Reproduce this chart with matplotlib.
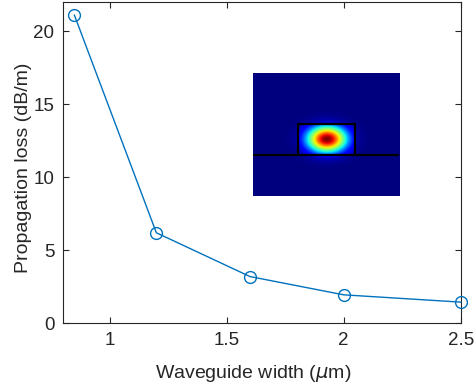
import numpy as np
import matplotlib.pyplot as plt

plt.rcParams['font.family'] = ['Liberation Sans', 'DejaVu Sans']
plt.rcParams['mathtext.fontset'] = 'dejavusans'

# data
width_um = [0.85, 1.2, 1.6, 2.0, 2.5]
loss_dBm = [21.1, 6.2, 3.2, 1.95, 1.45]
xticks = [1, 1.5, 2, 2.5]
xticklabels = ['1', '1.5', '2', '2.5']
yticks = [0, 5, 10, 15, 20]

blue = '#0072BD'
txt = '#262626'

fig = plt.figure(figsize=(4.76, 3.87), dpi=100)
ax = fig.add_axes([0.1317, 0.1646, 0.8362, 0.8302])

ax.plot(width_um, loss_dBm, '-o', color=blue, lw=1.0, ms=8.5,
        markerfacecolor='none', markeredgewidth=1.0, clip_on=False, zorder=3)

ax.set_xlim(0.8, 2.5)
ax.set_ylim(0, 22)
ax.set_xticks(xticks)
ax.set_xticklabels(xticklabels)
ax.set_yticks(yticks)
ax.tick_params(direction='in', length=4, width=0.8, colors=txt, labelsize=13.5,
               top=True, right=True, pad=6)
for s in ax.spines.values():
    s.set_color(txt)
    s.set_linewidth(0.8)
ax.set_xlabel(r'Waveguide width ($\mu$m)', fontsize=14, color=txt)
ax.set_ylabel('Propagation loss (dB/m)', fontsize=14, color=txt)
ax.xaxis.set_label_coords(0.479, -0.125)
ax.yaxis.set_label_coords(-0.078, 0.483)

# inset: mode profile
ins = fig.add_axes([0.531, 0.4935, 0.308, 0.3186])
W, H = 147, 123
xx, yy = np.meshgrid(np.arange(W) + 0.5, np.arange(H) + 0.5)
cx, cy = 74, 66.5
sx, sy = 13.5, 9.0
mode = np.exp(-((xx - cx) / sx) ** 2 / 2 - ((yy - cy) / sy) ** 2 / 2)
rib_x0, rib_x1, rib_y0, slab_y = 45, 102.5, 51.5, 82.5
outside = (xx < rib_x0) | (xx > rib_x1) | (yy < rib_y0)
mode[outside & (yy < slab_y)] *= 0.4
mode[yy > slab_y] *= 0.6
ins.imshow(mode, cmap='jet', vmin=0, vmax=1, extent=(0, W, H, 0),
           interpolation='bilinear', aspect='auto')
ins.plot([rib_x0, rib_x0, rib_x1, rib_x1], [slab_y, rib_y0, rib_y0, slab_y],
         color='k', lw=1.6)
ins.plot([0, W], [slab_y, slab_y], color='k', lw=1.6)
ins.set_xlim(0, W)
ins.set_ylim(H, 0)
ins.axis('off')

fig.savefig('out.png', dpi=100)
